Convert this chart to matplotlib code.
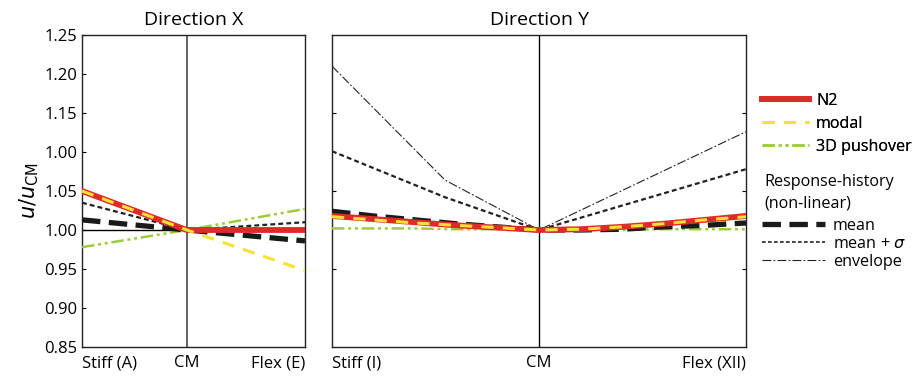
import numpy as np
import matplotlib
matplotlib.use('Agg')
import matplotlib.pyplot as plt
from matplotlib.lines import Line2D

plt.rcParams['font.family'] = ['Open Sans', 'DejaVu Sans']

# ---- data ----
# direction X: Stiff (A), CM, Flex (E)
xPosX = [0.0, 0.47, 1.0]
xTickLabelsX = ['Stiff (A)', 'CM', 'Flex (E)']
n2X = [1.050, 1.000, 1.000]
modalX = [1.050, 1.000, 0.948]
pushX = [0.978, 1.000, 1.027]
meanX = [1.013, 1.000, 0.986]
meanSigX = [1.035, 1.000, 1.010]

# direction Y: Stiff (I) ... CM ... Flex (XII)
xTickPosY = [0.0, 0.5, 1.0]
xTickLabelsY = ['Stiff (I)', 'CM', 'Flex (XII)']
xCurveY = [0.0, 0.1, 0.2, 0.3, 0.4, 0.5, 0.6, 0.7, 0.8, 0.9, 1.0]
n2Y = [1.018, 1.014, 1.010, 1.006, 1.003, 1.000, 1.001, 1.004, 1.008, 1.013, 1.018]
modalY = [1.017, 1.013, 1.009, 1.006, 1.003, 1.000, 1.001, 1.004, 1.008, 1.013, 1.017]
meanY = [1.024, 1.018, 1.013, 1.008, 1.004, 1.000, 1.000, 1.001, 1.004, 1.006, 1.009]
pushY = [1.002, 1.002, 1.002, 1.001, 1.001, 1.000, 1.000, 1.000, 1.001, 1.001, 1.001]
xSigY = [0.0, 0.273, 0.5, 1.0]
meanSigY = [1.101, 1.042, 1.000, 1.078]
envY = [1.210, 1.064, 1.000, 1.126]

yTicks = [0.85, 0.90, 0.95, 1.00, 1.05, 1.10, 1.15, 1.20, 1.25]
yTickLabels = ['0.85', '0.90', '0.95', '1.00', '1.05', '1.00', '1.15', '1.20', '1.25']

red = '#e02a2a'
yellow = '#f7e234'
green = '#9dcb3a'
fs = 12
lfs = 11.6

W, H = 920, 377
fig = plt.figure(figsize=(W / 100, H / 100), dpi=100)
axX = fig.add_axes([82 / W, (H - 347) / H, 223 / W, 312 / H])
axY = fig.add_axes([332 / W, (H - 347) / H, 414 / W, 312 / H])

sigStyle = (0, (2.2, 1.4))
envStyle = (0, (8, 2, 1.5, 2))
pushStyle = (0, (5, 1.5, 1.2, 1.5, 1.2, 1.5))
meanStyle = (0, (3.5, 1.6))
modalStyle = (0, (4, 3))

def DrawSet(ax, x, n2, modal, push, mean, xs, meanSig, env=None):
    ax.plot(xs, meanSig, color='#222222', lw=1.6, ls=sigStyle, zorder=3)
    if env is not None:
        ax.plot(xs, env, color='#222222', lw=0.8, ls=envStyle, zorder=3)
    ax.plot(x, push, color=green, lw=1.8, ls=pushStyle, zorder=4)
    ax.plot(x, mean, color='#1a1a1a', lw=3.8, ls=meanStyle, zorder=5)
    ax.plot(x, n2, color=red, lw=4.2, zorder=6)
    ax.plot(x, modal, color=yellow, lw=2.2, ls=modalStyle, zorder=7)

# direction X
axX.axhline(1.0, color='black', lw=1.0, zorder=2)
axX.axvline(xPosX[1], color='#555555', lw=1.3, zorder=2)
DrawSet(axX, xPosX, n2X, modalX, pushX, meanX, xPosX, meanSigX)
axX.set_title('Direction X', fontsize=14, pad=7)
axX.set_ylabel(r'$u/u_{\rm CM}$', fontsize=15, labelpad=2)

# direction Y
axY.axvline(xTickPosY[1], color='black', lw=1.0, zorder=2)
DrawSet(axY, xCurveY, n2Y, modalY, pushY, meanY, xSigY, meanSigY, envY)
axY.set_title('Direction Y', fontsize=14, pad=7)

for ax in (axX, axY):
    ax.set_xlim(0, 1)
    ax.set_ylim(0.85, 1.25)
    for s in ax.spines.values():
        s.set_linewidth(1.0)
        s.set_color('#222222')
    ax.tick_params(axis='y', direction='in', length=3, labelsize=fs)
    ax.tick_params(axis='x', length=0, labelsize=fs, pad=6)

axX.set_yticks(yTicks)
axX.set_yticklabels(yTickLabels)
axX.set_xticks(xPosX)
axX.set_xticklabels(xTickLabelsX)
axY.set_yticks([0.95, 1.05, 1.15])
axY.tick_params(axis='y', left=True, right=True, labelleft=False)
axY.set_xticks(xTickPosY)
axY.set_xticklabels(xTickLabelsY)
for ax in (axX, axY):
    lbls = ax.get_xticklabels()
    lbls[0].set_ha('left')
    lbls[-1].set_ha('right')

# legends
h1 = [Line2D([], [], color=red, lw=4.2),
      Line2D([], [], color=yellow, lw=2.2, ls=modalStyle),
      Line2D([], [], color=green, lw=1.8, ls=pushStyle)]
leg1 = fig.legend(h1, ['N2', 'modal', '3D pushover'], loc='upper left',
                  bbox_to_anchor=(762 / W, 1 - 93 / H), frameon=False,
                  fontsize=lfs, handlelength=2.9, handletextpad=0.45,
                  labelspacing=0.42, borderaxespad=0, borderpad=0)
fig.text(764 / W, 1 - 182 / H, 'Response-history', fontsize=lfs, va='center', ha='left')
fig.text(764 / W, 1 - 203 / H, '(non-linear)', fontsize=lfs, va='center', ha='left')
h2 = [Line2D([], [], color='#1a1a1a', lw=3.8, ls=meanStyle),
      Line2D([], [], color='#222222', lw=1.2, ls=sigStyle),
      Line2D([], [], color='#222222', lw=0.8, ls=envStyle)]
leg2 = fig.legend(h2, ['mean', r'mean + $\sigma$', 'envelope'], loc='upper left',
                  bbox_to_anchor=(762 / W, 1 - 218 / H), frameon=False,
                  fontsize=lfs, handlelength=3.9, handletextpad=0.5,
                  labelspacing=0.12, borderaxespad=0, borderpad=0)
fig.add_artist(leg1)

fig.savefig('out.png', dpi=100)
